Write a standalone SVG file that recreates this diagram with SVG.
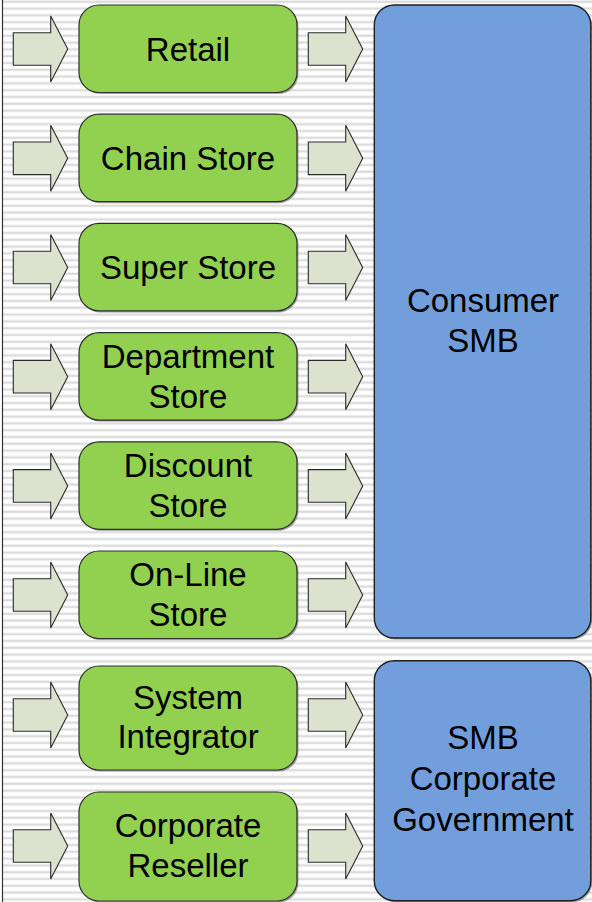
<svg xmlns="http://www.w3.org/2000/svg" width="592" height="902" viewBox="0 0 592 902">
  <style>
    .green { fill: #92d050; stroke: #2e2e2e; stroke-width: 1.2; }
    .blue { fill: #729fdb; stroke: #1f1f1f; stroke-width: 1.4; }
    .shadow { fill: #5a5a5a; opacity: 0.55; }
    .arrow { fill: #dde2cf; stroke: #2a2a2a; stroke-width: 1.1; stroke-linejoin: miter; }
    .label { font-family: "Liberation Sans", Arial, sans-serif; font-size: 33px; fill: #000; text-anchor: middle; }
  </style>
  <defs>
    <pattern id="stripes" x="0" y="0" width="10" height="6.8" patternUnits="userSpaceOnUse">
      <rect x="0" y="0" width="10" height="6.8" fill="#ffffff"/>
      <rect x="0" y="0.4" width="10" height="2.8" fill="#e8e8e8"/>
      <rect x="0" y="1.2" width="10" height="1.2" fill="#d8d8d8"/>
    </pattern>
    <path id="arr" d="M0,-16.3 H37.4 V-33 L54.4,0 L37.4,33 V16.3 H0 Z"/>
  </defs>

  <rect x="0" y="0" width="592" height="902" fill="#ffffff"/>
  <rect x="3" y="0" width="589" height="902" fill="url(#stripes)"/>
  <line x1="2.5" y1="0" x2="2.5" y2="902" stroke="#3a3030" stroke-width="1.2"/>

  <g id="connectors">
    <use href="#arr" class="arrow" transform="translate(13.3,49)"/>
    <use href="#arr" class="arrow" transform="translate(13.3,158.3)"/>
    <use href="#arr" class="arrow" transform="translate(13.3,267.5)"/>
    <use href="#arr" class="arrow" transform="translate(13.3,376.7)"/>
    <use href="#arr" class="arrow" transform="translate(13.3,485.9)"/>
    <use href="#arr" class="arrow" transform="translate(13.3,595)"/>
    <use href="#arr" class="arrow" transform="translate(13.3,715)"/>
    <use href="#arr" class="arrow" transform="translate(13.3,846)"/>
    <use href="#arr" class="arrow" transform="translate(308.3,49)"/>
    <use href="#arr" class="arrow" transform="translate(308.3,158.3)"/>
    <use href="#arr" class="arrow" transform="translate(308.3,267.5)"/>
    <use href="#arr" class="arrow" transform="translate(308.3,376.7)"/>
    <use href="#arr" class="arrow" transform="translate(308.3,485.9)"/>
    <use href="#arr" class="arrow" transform="translate(308.3,595)"/>
    <use href="#arr" class="arrow" transform="translate(308.3,715)"/>
    <use href="#arr" class="arrow" transform="translate(308.3,846)"/>
  </g>

  <g id="retail">
    <rect class="shadow" x="80.5" y="6.5" width="218" height="87.5" rx="20"/>
    <rect class="green" x="79" y="5" width="218" height="87.5" rx="20"/>
    <text class="label" x="188" y="60.5">Retail</text>
  </g>
  <g id="chain-store">
    <rect class="shadow" x="80.5" y="115.7" width="218" height="87.5" rx="20"/>
    <rect class="green" x="79" y="114.2" width="218" height="87.5" rx="20"/>
    <text class="label" x="188" y="169.5">Chain Store</text>
  </g>
  <g id="super-store">
    <rect class="shadow" x="80.5" y="224.9" width="218" height="87.5" rx="20"/>
    <rect class="green" x="79" y="223.4" width="218" height="87.5" rx="20"/>
    <text class="label" x="188" y="278.7">Super Store</text>
  </g>
  <g id="department-store">
    <rect class="shadow" x="80.5" y="334.1" width="218" height="87.5" rx="20"/>
    <rect class="green" x="79" y="332.6" width="218" height="87.5" rx="20"/>
    <text class="label" x="188" y="367.8">Department</text>
    <text class="label" x="188" y="407.8">Store</text>
  </g>
  <g id="discount-store">
    <rect class="shadow" x="80.5" y="443.3" width="218" height="87.5" rx="20"/>
    <rect class="green" x="79" y="441.8" width="218" height="87.5" rx="20"/>
    <text class="label" x="188" y="477">Discount</text>
    <text class="label" x="188" y="517">Store</text>
  </g>
  <g id="online-store">
    <rect class="shadow" x="80.5" y="552.5" width="218" height="87.5" rx="20"/>
    <rect class="green" x="79" y="551" width="218" height="87.5" rx="20"/>
    <text class="label" x="188" y="586.2">On-Line</text>
    <text class="label" x="188" y="626.2">Store</text>
  </g>
  <g id="system-integrator">
    <rect class="shadow" x="80.5" y="667.5" width="218" height="104" rx="20"/>
    <rect class="green" x="79" y="666" width="218" height="104" rx="20"/>
    <text class="label" x="188" y="709">System</text>
    <text class="label" x="188" y="748">Integrator</text>
  </g>
  <g id="corporate-reseller">
    <rect class="shadow" x="80.5" y="793.5" width="218" height="109" rx="20"/>
    <rect class="green" x="79" y="792" width="218" height="109" rx="20"/>
    <text class="label" x="188" y="836.5">Corporate</text>
    <text class="label" x="188" y="876.5">Reseller</text>
  </g>

  <g id="consumer-smb">
    <rect class="shadow" x="375.8" y="6.5" width="216.5" height="633" rx="20"/>
    <rect class="blue" x="374.3" y="5" width="216.5" height="633" rx="20"/>
    <text class="label" x="483" y="312">Consumer</text>
    <text class="label" x="483" y="352">SMB</text>
  </g>
  <g id="smb-corporate-government">
    <rect class="shadow" x="375.8" y="662.2" width="216.5" height="240" rx="20"/>
    <rect class="blue" x="374.3" y="660.7" width="216.5" height="240" rx="20"/>
    <text class="label" x="483" y="749">SMB</text>
    <text class="label" x="483" y="790">Corporate</text>
    <text class="label" x="483" y="831">Government</text>
  </g>
</svg>
